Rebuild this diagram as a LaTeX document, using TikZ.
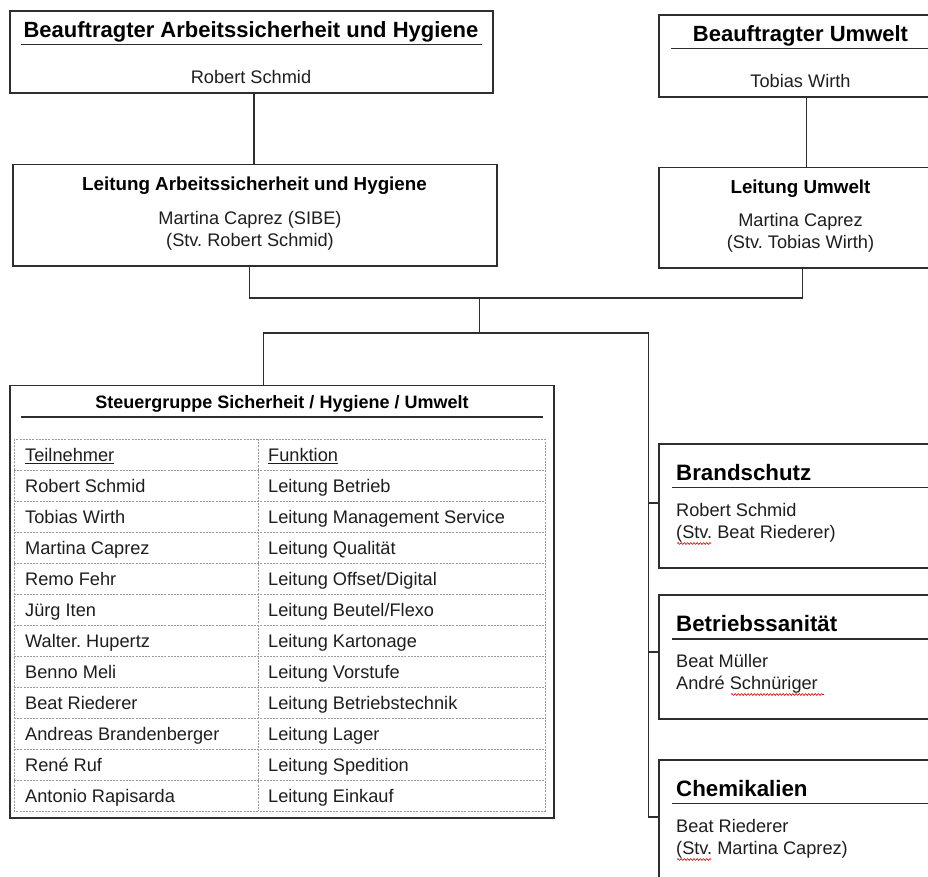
\documentclass[tikz,border=0pt]{standalone}
\usepackage{fontspec}
\setmainfont{Liberation Sans}
\usetikzlibrary{decorations.pathmorphing}
\frenchspacing
\definecolor{linec}{HTML}{2E2E2E}
\definecolor{txtc}{HTML}{1E1E1E}
\definecolor{dashc}{HTML}{9A9A9A}
\newcommand{\bodyf}{\fontsize{18.2}{21}\selectfont}
\newcommand{\bigt}{\fontsize{22}{26}\selectfont\bfseries}
\newcommand{\midt}{\fontsize{18.8}{22}\selectfont\bfseries}
\newcommand{\sidet}{\fontsize{22.3}{26}\selectfont\bfseries}
\begin{document}
\begin{tikzpicture}[x=1pt,y=-1pt,
  box/.style={draw=linec, line width=1.2pt, anchor=north west, inner sep=0pt, outer sep=0pt},
  conn/.style={draw=linec, line width=1.2pt},
  uline/.style={draw=linec, line width=1.2pt},
  tc/.style={anchor=base, inner sep=0pt, text=txtc, font=\bodyf},
  tl/.style={anchor=base west, inner sep=0pt, text=txtc, font=\bodyf},
  grid/.style={draw=dashc, line width=0.7pt, dash pattern=on 2pt off 1.2pt},
  wavy/.style={draw=red!85!black, line width=0.6pt, decorate, decoration={snake, amplitude=0.9pt, segment length=3.2pt}}]
\useasboundingbox (0,0) rectangle (928,877);
\clip (0,0) rectangle (928,877);
\fill[white] (0,0) rectangle (928,877);

% ---- boxes
\node[box, minimum width=483pt, minimum height=82pt] (b1) at (10,11) {};
\node[box, minimum width=484pt, minimum height=101.5pt] (b2) at (13,164.5) {};
\node[box, minimum width=300pt, minimum height=82pt] (b3) at (659,15) {};
\node[box, minimum width=300pt, minimum height=100.5pt] (b4) at (659,167.5) {};
\node[box, minimum width=544pt, minimum height=432.5pt] (sg) at (10,385.5) {};
\node[box, minimum width=300pt, minimum height=124pt] (br) at (659,444) {};
\node[box, minimum width=300pt, minimum height=124pt] (bs) at (659,595) {};
\node[box, minimum width=300pt, minimum height=124pt] (ch) at (659,760) {};

% ---- box 1
\node[tc, font=\bigt, text=black] (t1) at (251,38) {Beauftragter Arbeitssicherheit und Hygiene};
\draw[uline] (20.5,44.5) -- (481.5,44.5);
\node[tc] (t1a) at (251,84) {Robert Schmid};

% ---- box 2
\node[tc, font=\midt, text=black] (t2) at (254.5,191) {Leitung Arbeitssicherheit und Hygiene};
\node[tc] (t2a) at (250,225) {Martina Caprez (SIBE)};
\node[tc] (t2b) at (250,246.5) {(Stv. Robert Schmid)};

% ---- box 3
\node[tc, font=\bigt, text=black] (t3) at (800.5,42) {Beauftragter Umwelt};
\draw[uline] (671,48.5) -- (959,48.5);
\node[tc] (t3a) at (800.5,88) {Tobias Wirth};

% ---- box 4
\node[tc, font=\midt, text=black] (t4) at (800.5,194) {Leitung Umwelt};
\node[tc] (t4a) at (800.5,226.5) {Martina Caprez};
\node[tc] (t4b) at (800.5,248) {(Stv. Tobias Wirth)};

% ---- Steuergruppe
\node[tc, font=\fontsize{18}{21}\selectfont\bfseries, text=black] (t5) at (282,408) {Steuergruppe Sicherheit / Hygiene / Umwelt};
\draw[uline] (21,417) -- (543,417);
\draw[grid] (14,439) rectangle (545,811);
\draw[grid] (258,439) -- (258,811);
\foreach \k in {1,...,11} {\draw[grid] (14,439+31*\k) -- (545,439+31*\k);}
\node[tl] (h1) at (25,461) {Teilnehmer};
\node[tl] (h2) at (268,461) {Funktion};
\draw[draw=txtc, line width=0.8pt] (25,463.5) -- (h1.east |- 0,463.5);
\draw[draw=txtc, line width=0.8pt] (268,463.5) -- (h2.east |- 0,463.5);
\foreach \n/\f [count=\i] in {Robert Schmid/Leitung Betrieb,
  Tobias Wirth/Leitung Management Service,
  Martina Caprez/Leitung Qualität,
  Remo Fehr/Leitung Offset\slash Digital,
  Jürg Iten/Leitung Beutel\slash Flexo,
  Walter. Hupertz/Leitung Kartonage,
  Benno Meli/Leitung Vorstufe,
  Beat Riederer/Leitung Betriebstechnik,
  Andreas Brandenberger/Leitung Lager,
  René Ruf/Leitung Spedition,
  Antonio Rapisarda/Leitung Einkauf} {
  \node[tl] (n\i) at (25,461+31*\i) {\n};
  \node[tl] (f\i) at (268,461+31*\i) {\f};
}

% ---- Brandschutz
\node[anchor=base west, inner sep=0pt, font=\sidet] (t6) at (676,480) {Brandschutz};
\draw[uline] (672,487.5) -- (959,487.5);
\node[tl] (t6a) at (676,516.5) {Robert Schmid};
\node[tl] (t6b) at (676,538.5) {(Stv. Beat Riederer)};
\draw[wavy] (677,543.5) -- (711,543.5);

% ---- Betriebssanitaet
\node[anchor=base west, inner sep=0pt, font=\sidet] (t7) at (676,631.5) {Betriebssanität};
\draw[uline] (672,639) -- (959,639);
\node[tl] (t7a) at (676,667.5) {Beat Müller};
\node[tl] (t7b) at (676,689.5) {André Schnüriger};
\draw[wavy] (731,694.5) -- (824,694.5);

% ---- Chemikalien
\node[anchor=base west, inner sep=0pt, font=\sidet] (t8) at (676,796) {Chemikalien};
\draw[uline] (672,803.5) -- (959,803.5);
\node[tl] (t8a) at (676,832.5) {Beat Riederer};
\node[tl] (t8b) at (676,854.5) {(Stv. Martina Caprez)};
\draw[wavy] (677,859.5) -- (711,859.5);

% ---- connectors
\coordinate (j1) at (254,0);
\coordinate (j2) at (806.5,0);
\coordinate (m1) at (249.5,298);
\coordinate (m2) at (802.5,298);
\coordinate (m3) at (479.5,298);
\coordinate (m4) at (479.5,333);
\coordinate (q1) at (263.5,333);
\coordinate (q2) at (648.5,333);
\coordinate (k1) at (648.5,503);
\coordinate (k2) at (648.5,652);
\coordinate (k3) at (648.5,817);

\draw[conn] (b1.south -| j1) -- (b2.north -| j1);
\draw[conn] (b3.south -| j2) -- (b4.north -| j2);
\draw[conn] (b2.south -| m1) -- (m1) -- (m2) -- (b4.south -| m2);
\draw[conn] (m3) -- (m4);
\draw[conn] (sg.north -| q1) -- (q1) -- (q2) -- (k3) -- (ch.west |- k3);
\draw[conn] (k1) -- (br.west |- k1);
\draw[conn] (k2) -- (bs.west |- k2);
\end{tikzpicture}
\end{document}
